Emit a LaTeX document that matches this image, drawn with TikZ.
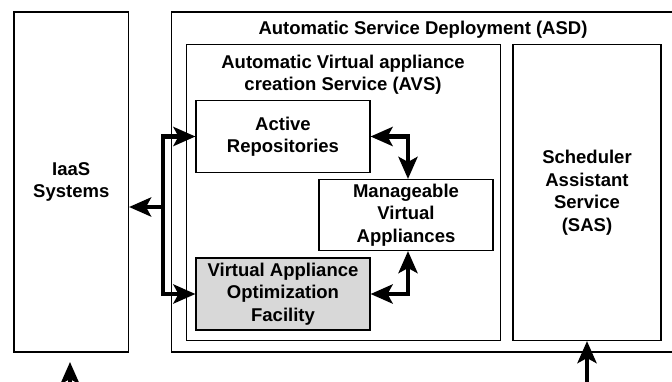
\documentclass[tikz,border=0pt]{standalone}
\usepackage{fontspec}
\setmainfont{Liberation Sans}
\usetikzlibrary{arrows.meta}
\begin{document}
\begin{tikzpicture}[x=1pt,y=-1pt,
  lbl/.style={align=center, inner sep=0pt, font=\fontsize{18.5}{22.5}\selectfont\bfseries},
  box/.style={lbl, draw, line width=1.1pt},
  conn/.style={line width=4.2pt, line join=miter},
  dbl/.style={conn, {Stealth[length=22pt,width=19pt,inset=5pt]}-{Stealth[length=22pt,width=19pt,inset=5pt]}},
  sgl/.style={conn, -{Stealth[length=22pt,width=19pt,inset=5pt]}}]
\useasboundingbox (0,0) rectangle (672,381);
% containers
\node[box, minimum width=114.5pt, minimum height=340pt] (iaas) at (71.25,182) {IaaS\\Systems};
\draw[line width=1.1pt] (690,12) -- (171.5,12) -- (171.5,352) -- (690,352);
\node[lbl] (asdt) at (423,30) {Automatic Service Deployment (ASD)};
\node[box, minimum width=314pt, minimum height=296pt] (avs) at (343.5,192.5) {};
\node[lbl] (avst) at (343,74.5) {Automatic Virtual appliance\\creation Service (AVS)};
\node[box, minimum width=148pt, minimum height=296pt] (sas) at (587,192.5) {Scheduler\\Assistant\\Service\\(SAS)};
% inner boxes
\node[box, minimum width=174pt, minimum height=72pt] (ar) at (283,136.5) {Active\\Repositories};
\node[box, minimum width=174pt, minimum height=71pt] (mva) at (406,215) {Manageable\\Virtual\\Appliances};
\node[box, fill={rgb,255:red,216;green,216;blue,216}, minimum width=174pt, minimum height=72pt] (vaof) at (283,294) {Virtual Appliance\\Optimization\\Facility};
% connectors
\coordinate (j) at (163,207);
\draw[dbl] (ar.west) -| (j) |- (vaof.west);
\draw[sgl] (j) -- (iaas.east |- j);
\draw[dbl] (ar.east) -| ([xshift=2pt]mva.north);
\draw[dbl] (vaof.east) -| ([xshift=2pt]mva.south);
\coordinate (b1) at (70,390);
\coordinate (t1) at (70,362);
\draw[sgl] (b1) -- (t1);
\coordinate (b2) at (587,390);
\draw[sgl] (b2) -- (sas.south);
\end{tikzpicture}
\end{document}
